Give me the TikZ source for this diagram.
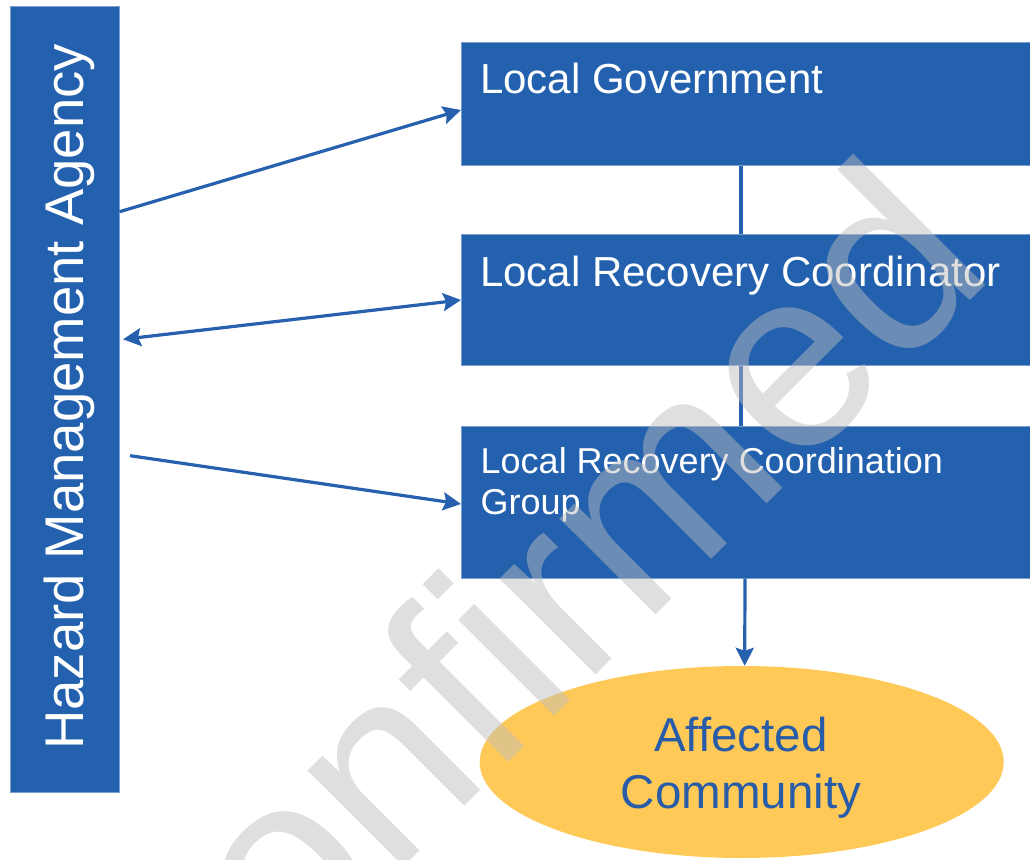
\documentclass[tikz,border=0pt]{standalone}
\usepackage{fontspec}
\setmainfont[Ligatures=NoCommon]{Liberation Sans}
\usetikzlibrary{arrows.meta,shapes.geometric}
\definecolor{boxblue}{RGB}{35,97,174}
\definecolor{boxedge}{RGB}{120,160,210}
\definecolor{lineblue}{RGB}{38,96,174}
\definecolor{ellfill}{RGB}{255,201,87}
\definecolor{elltext}{RGB}{40,92,168}
\definecolor{wmgray}{RGB}{189,189,189}
\begin{document}
\begin{tikzpicture}[x=1pt,y=-1pt,
  bluebox/.style={rectangle, fill=boxblue, draw=boxedge, line width=0.6pt, inner sep=0pt, anchor=north west},
  boxtext/.style={text=white, anchor=base west, inner sep=0pt},
  elltxt/.style={text=elltext, anchor=base, inner sep=0pt, font=\fontsize{47.5}{56}\selectfont},
  conn/.style={draw=lineblue, line width=3.2pt},
  arr/.style={conn, -{Stealth[length=18pt,width=18pt,inset=3pt]}},
  darr/.style={conn, {Stealth[length=18pt,width=18pt,inset=3pt]}-{Stealth[length=18pt,width=18pt,inset=3pt]}},
  wmark/.style={rotate=45, anchor=base east, inner sep=0pt, text=wmgray, text opacity=0.47, font=\fontsize{257}{257}\selectfont}
]
\useasboundingbox (0,0) rectangle (1030,859);
\clip (0,0) rectangle (1030,859);
\fill[white] (0,0) rectangle (1030,859);

% boxes
\node[bluebox, minimum width=109pt, minimum height=786pt] (hma) at (10,6) {};
\node[bluebox, minimum width=575pt, minimum height=123pt] (lg) at (461,42) {};
\node[bluebox, minimum width=575pt, minimum height=131pt] (lrc) at (461,234) {};
\node[bluebox, minimum width=575pt, minimum height=152pt] (lrcg) at (461,426) {};
\node[ellipse, fill=ellfill, minimum width=524pt, minimum height=192pt, inner sep=0pt] (ac) at (741.7,762) {};

% texts
\node[boxtext, rotate=90, font=\fontsize{54.5}{60}\selectfont] (hmat) at (83.5,750) {Hazard Management Agency};
\node[boxtext, font=\fontsize{42}{50}\selectfont] (lgt) at (480,93.5) {Local Government};
\node[boxtext, font=\fontsize{42}{50}\selectfont] (lrct) at (480,286.5) {Local Recovery Coordinator};
\node[boxtext, font=\fontsize{36}{41}\selectfont] (lrcgt1) at (480.5,473) {Local Recovery Coordination};
\node[boxtext, font=\fontsize{36}{41}\selectfont] (lrcgt2) at (480.5,514) {Group};
\node[elltxt] (act1) at (741,751.7) {Affected};
\node[elltxt] (act2) at (741,808.3) {Community};

% connectors
\draw[arr] ([yshift=-205.7pt]hma.north east) -- ([yshift=-68pt]lg.north west);
\draw[darr] ([xshift=3.5pt,yshift=-333.3pt]hma.north east) -- ([yshift=-66pt]lrc.north west);
\draw[arr] ([xshift=10.5pt,yshift=-449.7pt]hma.north east) -- ([yshift=-78pt]lrcg.north west);
\draw[conn] ([xshift=280pt]lg.south west) -- ([xshift=280pt]lrc.north west);
\draw[conn] ([xshift=280pt]lrc.south west) -- ([xshift=280pt]lrcg.north west);
\draw[arr] ([xshift=284pt]lrcg.south west) -- ([xshift=3pt]ac.north);

% watermark
\node[wmark] (wm) at (997.5,273.5) {onfirmed};
\end{tikzpicture}
\end{document}
